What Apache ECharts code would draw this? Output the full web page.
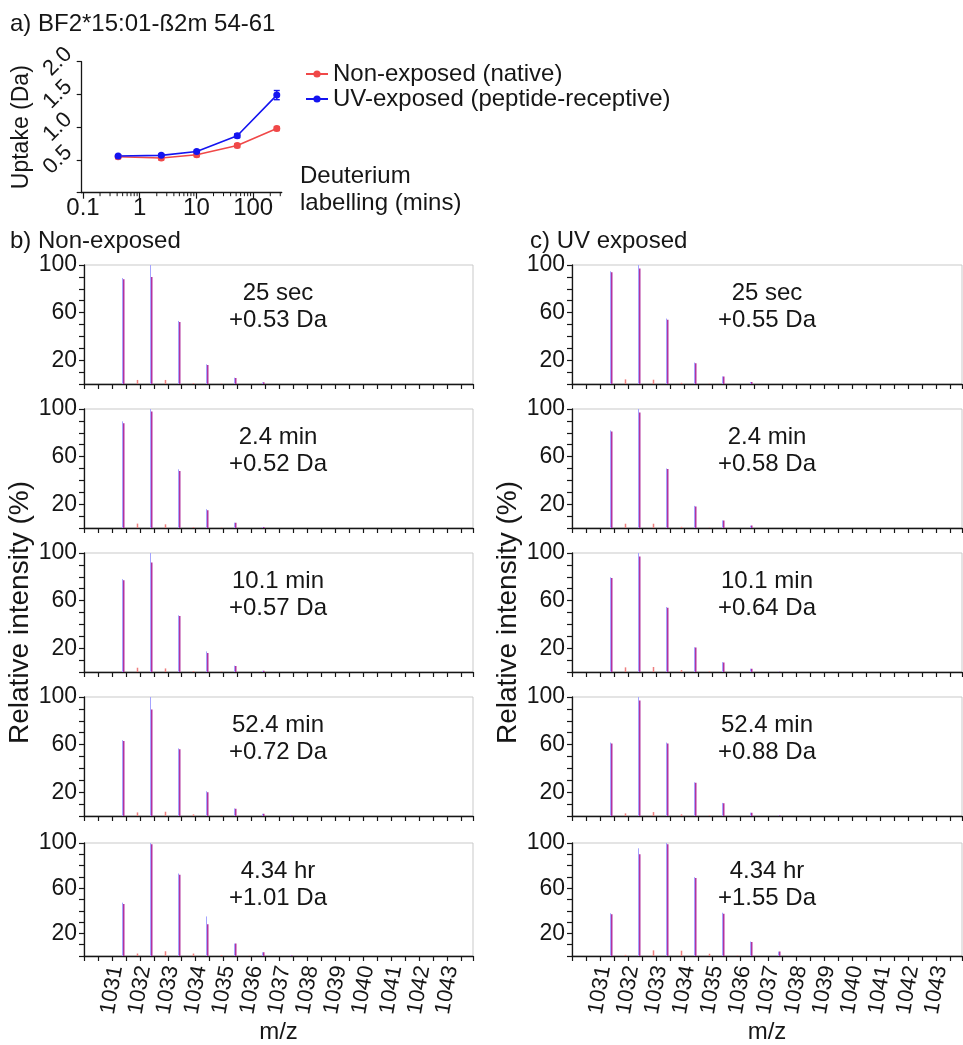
<!DOCTYPE html>
<html>
<head>
<meta charset="utf-8">
<script src="https://cdn.jsdelivr.net/npm/echarts@6/dist/echarts.min.js"></script>
<style>
html,body{margin:0;padding:0;background:#fff;}
#c{width:963px;height:1045px;}
</style>
</head>
<body>
<div id="c"></div>
<script>
// ---------- panel a data ----------
const titleA = 'a) BF2*15:01-ß2m 54-61';
const titleB = 'b) Non-exposed';
const titleC = 'c) UV exposed';
const seriesNames = ['Non-exposed (native)', 'UV-exposed (peptide-receptive)'];
const timesMin = [0.4167, 2.4, 10.1, 52.4, 260.4];
const uptakeNative = [0.55, 0.53, 0.58, 0.72, 0.98];
const errNative = [0.03, 0.03, 0.03, 0.03, 0.03];
const uptakeUV = [0.56, 0.57, 0.63, 0.87, 1.49];
const errUV = [0.02, 0.02, 0.02, 0.03, 0.07];
const uptakeTickLabels = [0.5, 1.0, 1.5, 2.0];
const logMinorTicks = [0.2,0.3,0.4,0.5,0.6,0.7,0.8,0.9,2,3,4,5,6,7,8,9,20,30,40,50,60,70,80,90,200,300];
const xNameA = 'Deuterium\nlabelling (mins)';

// ---------- spectra data ----------
const panelTimes = ['25 sec', '2.4 min', '10.1 min', '52.4 min', '4.34 hr'];
const deltaNative = ['+0.53 Da', '+0.52 Da', '+0.57 Da', '+0.72 Da', '+1.01 Da'];
const deltaUV = ['+0.55 Da', '+0.58 Da', '+0.64 Da', '+0.88 Da', '+1.55 Da'];
const peakMz = [1031.4, 1032.4, 1033.4, 1034.4, 1035.4, 1036.4, 1037.4];
const satMz = [1031.9, 1032.9, 1033.9, 1034.9, 1035.9];
const mzTickLabels = [1031,1032,1033,1034,1035,1036,1037,1038,1039,1040,1041,1042,1043];
const intensityTickLabels = [20, 60, 100];

const nativeBlue1 = [89, 100, 53, 16.5, 5.3, 1.4, 0];
const nativeBlue2 = [89.6, 100, 49.3, 15.8, 4.5, 0.8, 0];
const nativeBlue3 = [78, 100, 47.6, 17.3, 5.3, 1, 0];
const nativeBlue4 = [63.7, 100, 56.8, 20.8, 6.4, 1.9, 0.3];
const nativeBlue5 = [47.2, 100, 73, 35, 11, 3.3, 0.5];
const nativeRed1 = [88, 90, 52, 16, 5, 1.4, 0];
const nativeRed2 = [88, 98, 48, 15, 4.5, 0.8, 0];
const nativeRed3 = [77, 92, 47, 16, 5, 1, 0];
const nativeRed4 = [63, 89.5, 56, 20, 6, 1.9, 0.3];
const nativeRed5 = [46, 99, 72, 28, 11, 3.3, 0.5];
const nativeSat1 = [3.4, 3.4, 0.8, 0.3, 0];
const nativeSat2 = [3.7, 3.1, 0.8, 0.3, 0];
const nativeSat3 = [3.6, 3.0, 0.8, 0.3, 0];
const nativeSat4 = [3.0, 3.6, 1.4, 0.4, 0];
const nativeSat5 = [2.2, 4.2, 2.2, 0.8, 0.3];

const uvBlue1 = [94.7, 100, 55, 18, 6.4, 1.7, 0];
const uvBlue2 = [82, 100, 50, 18.6, 6.4, 2, 0];
const uvBlue3 = [79.5, 100, 54.6, 20.8, 8.3, 2.8, 0.3];
const uvBlue4 = [61.7, 100, 61.7, 28.3, 11, 2.8, 0.5];
const uvBlue5 = [37.8, 95.3, 100, 69.7, 38.3, 12.8, 3.9];
const uvRed1 = [94, 97, 54, 17.5, 6.2, 1.7, 0];
const uvRed2 = [81, 97, 49.5, 18, 6.2, 2, 0];
const uvRed3 = [79, 97, 54, 20.5, 8, 2.8, 0.3];
const uvRed4 = [61, 97, 61, 28, 10.8, 2.8, 0.5];
const uvRed5 = [37, 90, 99, 69, 37.5, 12.5, 3.9];
const uvSat1 = [3.9, 3.6, 1.0, 0.3, 0];
const uvSat2 = [3.6, 3.6, 1.0, 0.3, 0];
const uvSat3 = [3.9, 4.2, 1.7, 0.5, 0];
const uvSat4 = [2.2, 3.3, 1.4, 0.5, 0];
const uvSat5 = [1.0, 5.0, 4.7, 2.0, 0.5];

const nativeBlue = [nativeBlue1, nativeBlue2, nativeBlue3, nativeBlue4, nativeBlue5];
const nativeRed = [nativeRed1, nativeRed2, nativeRed3, nativeRed4, nativeRed5];
const nativeSat = [nativeSat1, nativeSat2, nativeSat3, nativeSat4, nativeSat5];
const uvBlue = [uvBlue1, uvBlue2, uvBlue3, uvBlue4, uvBlue5];
const uvRed = [uvRed1, uvRed2, uvRed3, uvRed4, uvRed5];
const uvSat = [uvSat1, uvSat2, uvSat3, uvSat4, uvSat5];

// ---------- styling / layout ----------
const FONT = '"Liberation Sans", Arial, sans-serif';
const INK = '#161616';
const RED = '#f04848';
const BLUE = '#1414f0';
const panelTops = [265, 409, 553, 697, 843];
const panelH = 119;
const colLeft = [84, 572];
const colWidth = [389, 390];
const annotX = [278, 767];

const chart = echarts.init(document.getElementById('c'), null, {renderer: 'canvas'});

const grids = [{left: 81.7, top: 61.7, width: 200, height: 131}];
const xAxes = [{
  type: 'log', gridIndex: 0, min: 0.095, max: 318, logBase: 10,
  axisLine: {lineStyle: {color: INK, width: 1.3}},
  axisTick: {length: 6, lineStyle: {color: INK, width: 1.2}},
  axisLabel: {color: INK, fontSize: 24, fontFamily: FONT, margin: 4, showMinLabel: false, showMaxLabel: false,
    formatter: v => String(v)},
  splitLine: {show: false}
}];
const yAxes = [{
  type: 'value', gridIndex: 0, min: 0, max: 2, interval: 0.5,
  name: 'Uptake (Da)', nameLocation: 'middle', nameGap: 49,
  nameTextStyle: {color: INK, fontSize: 23, fontFamily: FONT},
  axisLine: {show: true, lineStyle: {color: INK, width: 1.3}},
  axisTick: {show: true, length: 5, lineStyle: {color: INK, width: 1.2}},
  axisLabel: {color: INK, fontSize: 22, fontFamily: FONT, rotate: 45, align: 'center', verticalAlign: 'middle', margin: 24,
    formatter: v => uptakeTickLabels.indexOf(v) >= 0 ? v.toFixed(1) : ''},
  splitLine: {show: false}
}];

const series = [];

// panel a lines
series.push({
  name: seriesNames[0], type: 'line', xAxisIndex: 0, yAxisIndex: 0,
  data: timesMin.map((t, i) => [t, uptakeNative[i]]),
  symbol: 'circle', symbolSize: 7, color: RED,
  lineStyle: {color: RED, width: 1.6}, itemStyle: {color: RED}, z: 5
});
series.push({
  name: seriesNames[1], type: 'line', xAxisIndex: 0, yAxisIndex: 0,
  data: timesMin.map((t, i) => [t, uptakeUV[i]]),
  symbol: 'circle', symbolSize: 7, color: BLUE,
  lineStyle: {color: BLUE, width: 1.6}, itemStyle: {color: BLUE}, z: 5
});
function errRender(color) {
  return function (params, api) {
    const t = api.value(0), v = api.value(1), e = api.value(2);
    const hi = api.coord([t, v + e]), lo = api.coord([t, v - e]);
    const w = 3;
    return {type: 'group', children: [
      {type: 'line', shape: {x1: hi[0], y1: hi[1], x2: lo[0], y2: lo[1]}, style: {stroke: color, lineWidth: 1.4}},
      {type: 'line', shape: {x1: hi[0] - w, y1: hi[1], x2: hi[0] + w, y2: hi[1]}, style: {stroke: color, lineWidth: 1.4}},
      {type: 'line', shape: {x1: lo[0] - w, y1: lo[1], x2: lo[0] + w, y2: lo[1]}, style: {stroke: color, lineWidth: 1.4}}
    ]};
  };
}
series.push({type: 'custom', xAxisIndex: 0, yAxisIndex: 0, renderItem: errRender(RED),
  data: timesMin.map((t, i) => [t, uptakeNative[i], errNative[i]]), z: 4, silent: true});
series.push({type: 'custom', xAxisIndex: 0, yAxisIndex: 0, renderItem: errRender(BLUE),
  data: timesMin.map((t, i) => [t, uptakeUV[i], errUV[i]]), z: 4, silent: true});
// log minor ticks
series.push({type: 'custom', xAxisIndex: 0, yAxisIndex: 0, clip: false, silent: true,
  renderItem: function (params, api) {
    const p = api.coord([api.value(0), 0]);
    return {type: 'line', shape: {x1: p[0], y1: p[1], x2: p[0], y2: p[1] + 3.5}, style: {stroke: INK, lineWidth: 1}};
  },
  data: logMinorTicks.map(v => [v, 0])});

// spectra
function peakRender(params, api) {
  const x = api.value(0), b = api.value(1), r = api.value(2);
  const base = api.coord([x, 0]);
  const pb = api.coord([x, b]);
  const pr = api.coord([x, r]);
  const cx = Math.round(base[0]);
  return {type: 'group', children: [
    {type: 'line', shape: {x1: cx - 0.5, y1: base[1], x2: cx - 0.5, y2: pb[1]}, style: {stroke: '#a4a4ff', lineWidth: 1}},
    {type: 'line', shape: {x1: cx + 0.75, y1: base[1], x2: cx + 0.75, y2: pr[1]}, style: {stroke: '#b2329e', lineWidth: 1.5}}
  ]};
}
function satRender(params, api) {
  const x = api.value(0), r = api.value(1);
  const base = api.coord([x, 0]);
  const pr = api.coord([x, r]);
  const cx = Math.round(base[0]) + 0.5;
  return {type: 'line', shape: {x1: cx, y1: base[1], x2: cx, y2: pr[1]}, style: {stroke: '#ee7f7f', lineWidth: 1.5}};
}

const graphics = [];
const titles = [
  {text: titleA, left: 10, top: 11},
  {text: titleB, left: 10, top: 228},
  {text: titleC, left: 530, top: 228},
  {text: xNameA, left: 300, top: 163}
].map(t => Object.assign({padding: 0, textStyle: {color: INK, fontSize: 24, fontWeight: 'normal', fontFamily: FONT, lineHeight: 27}}, t));

[0, 1].forEach(col => {
  const blues = col === 0 ? nativeBlue : uvBlue;
  const reds = col === 0 ? nativeRed : uvRed;
  const sats = col === 0 ? nativeSat : uvSat;
  const deltas = col === 0 ? deltaNative : deltaUV;
  for (let p = 0; p < 5; p++) {
    const gi = grids.length;
    const bottom = p === 4;
    grids.push({left: colLeft[col], top: panelTops[p], width: colWidth[col], height: panelH,
      show: true, borderColor: '#c9c9c9', borderWidth: 1, backgroundColor: 'transparent'});
    xAxes.push({
      type: 'value', gridIndex: gi, min: 1030, max: 1043.93, interval: 0.5,
      name: bottom ? 'm/z' : '', nameLocation: 'middle', nameGap: 64,
      nameTextStyle: {color: INK, fontSize: 24, fontFamily: FONT},
      axisLine: {lineStyle: {color: INK, width: 1.3}},
      axisTick: {length: 5, lineStyle: {color: INK, width: 1.2}},
      axisLabel: {show: bottom, color: INK, fontSize: 22, fontFamily: FONT, rotate: 80, align: 'center', verticalAlign: 'middle', margin: 34,
        formatter: v => mzTickLabels.indexOf(v) >= 0 ? String(v) : ''},
      splitLine: {show: false}
    });
    yAxes.push({
      type: 'value', gridIndex: gi, min: 0, max: 100, interval: 10,
      name: p === 2 ? 'Relative intensity (%)' : '', nameLocation: 'middle', nameGap: col === 0 ? 48 : 18,
      nameTextStyle: {color: INK, fontSize: 28, fontFamily: FONT},
      axisLine: {show: true, lineStyle: {color: INK, width: 1.3}},
      axisTick: {show: true, length: 5, lineStyle: {color: INK, width: 1.2}},
      axisLabel: {color: INK, fontSize: 23, fontFamily: FONT, margin: 7, showMaxLabel: true,
        formatter: v => intensityTickLabels.indexOf(v) >= 0 ? String(v) : ''},
      splitLine: {show: false}
    });
    series.push({type: 'custom', xAxisIndex: gi, yAxisIndex: gi, renderItem: peakRender, silent: true,
      data: peakMz.map((m, i) => [m, blues[p][i], reds[p][i]])});
    series.push({type: 'custom', xAxisIndex: gi, yAxisIndex: gi, renderItem: satRender, silent: true,
      data: satMz.map((m, i) => [m, sats[p][i]])});
    graphics.push({type: 'text', x: annotX[col], y: panelTops[p] + 15,
      style: {text: panelTimes[p] + '\n' + deltas[p], fill: INK, font: '24px ' + FONT, textAlign: 'center', lineHeight: 27}});
  }
});

chart.setOption({
  animation: false,
  backgroundColor: '#fff',
  title: titles,
  legend: {
    data: seriesNames, left: 300, top: 57, orient: 'vertical', itemGap: 1,
    itemWidth: 22, itemHeight: 9,
    textStyle: {color: INK, fontSize: 24, fontFamily: FONT}
  },
  grid: grids,
  xAxis: xAxes,
  yAxis: yAxes,
  series: series,
  graphic: graphics
});
</script>
</body>
</html>
